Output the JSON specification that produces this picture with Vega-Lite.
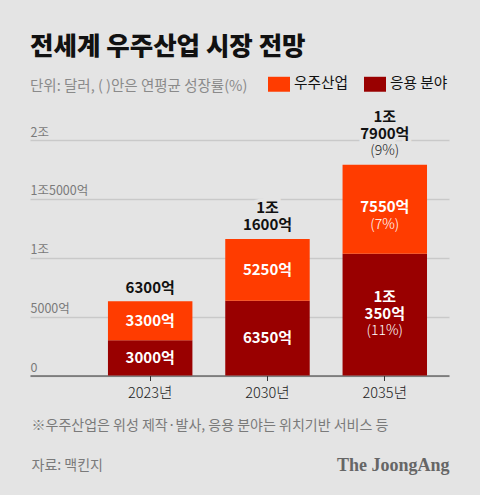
{
  "$schema": "https://vega.github.io/schema/vega-lite/v6.json",
  "width": 419,
  "height": 235.5,
  "autosize": "none",
  "padding": {"left": 30, "top": 140, "right": 31, "bottom": 119.5},
  "background": "#e4e4e4",
  "title": {
    "text": "전세계 우주산업 시장 전망",
    "subtitle": "단위: 달러, (   )안은 연평균 성장률(%)",
    "anchor": "start",
    "frame": "group",
    "dy": 24,
    "dx": 0,
    "font": "Noto Sans CJK KR",
    "fontSize": 25.5,
    "fontWeight": 900,
    "color": "#111111",
    "subtitleFont": "Noto Sans CJK KR",
    "subtitleFontSize": 14.5,
    "subtitleFontWeight": 400,
    "subtitleColor": "#8a8a8a",
    "subtitlePadding": 19
  },
  "datasets": {
    "segments": [
      {"year": "2023년", "series": "응용 분야", "rank": 1, "value": 3000, "label": "3000억", "growth": null},
      {"year": "2023년", "series": "우주산업", "rank": 2, "value": 3300, "label": "3300억", "growth": null},
      {"year": "2030년", "series": "응용 분야", "rank": 1, "value": 6350, "label": "6350억", "growth": null},
      {"year": "2030년", "series": "우주산업", "rank": 2, "value": 5250, "label": "5250억", "growth": null},
      {"year": "2035년", "series": "응용 분야", "rank": 1, "value": 10350, "label": "1조\n350억", "growth": "(11%)"},
      {"year": "2035년", "series": "우주산업", "rank": 2, "value": 7550, "label": "7550억", "growth": "(7%)"}
    ],
    "totals": [
      {"year": "2023년", "total": 6300, "label": "6300억", "growth": null},
      {"year": "2030년", "total": 11600, "label": "1조\n1600억", "growth": null},
      {"year": "2035년", "total": 17900, "label": "1조\n7900억", "growth": "(9%)"}
    ]
  },
  "encoding": {
    "x": {
      "field": "year",
      "type": "nominal",
      "scale": {"paddingInner": 0.28, "paddingOuter": 0.426, "align": 0.78},
      "axis": {
        "title": "※우주산업은 위성 제작·발사, 응용 분야는 위치기반 서비스 등",
        "titleX": 1,
        "titleY": 50,
        "titleAlign": "left",
        "titleBaseline": "middle",
        "titleFont": "Noto Sans CJK KR",
        "titleFontSize": 14,
        "titleFontWeight": 400,
        "titleColor": "#7a7a7a",
        "labelAngle": 0,
        "labelFont": "Noto Sans CJK KR",
        "labelFontSize": 14.5,
        "labelFontWeight": 300,
        "labelColor": "#222222",
        "labelPadding": 6,
        "domain": true,
        "domainColor": "#333333",
        "domainWidth": 1.2,
        "tickSize": 5,
        "tickColor": "#333333",
        "grid": false
      }
    }
  },
  "layer": [
    {
      "data": {"name": "segments"},
      "mark": {"type": "bar", "stroke": null},
      "encoding": {
        "y": {
          "field": "value",
          "type": "quantitative",
          "stack": "zero",
          "scale": {"domain": [0, 20000]},
          "axis": {
            "title": "자료: 맥킨지",
            "titleAngle": 0,
            "titleX": 1,
            "titleY": 325,
            "titleAlign": "left",
            "titleBaseline": "middle",
            "titleFont": "Noto Sans CJK KR",
            "titleFontSize": 14,
            "titleFontWeight": 400,
            "titleColor": "#7a7a7a",
            "values": [0, 5000, 10000, 15000, 20000],
            "labelExpr": "datum.value == 0 ? '0' : datum.value == 5000 ? '5000억' : datum.value == 10000 ? '1조' : datum.value == 15000 ? '1조5000억' : '2조'",
            "labelAlign": "left",
            "labelBaseline": "bottom",
            "labelPadding": 0,
            "labelFont": "Noto Sans CJK KR",
            "labelFontSize": 12.5,
            "labelColor": "#7a7a7a",
            "labelOffset": -1,
            "ticks": false,
            "domain": false,
            "grid": true,
            "gridColor": "#c9c9c9",
            "gridWidth": 1.3
          }
        },
        "color": {
          "field": "series",
          "type": "nominal",
          "scale": {"domain": ["우주산업", "응용 분야"], "range": ["#ff3c00", "#990000"]},
          "legend": {
            "title": null,
            "orient": "none",
            "legendX": 238,
            "legendY": -67,
            "direction": "horizontal",
            "columns": 2,
            "columnPadding": 15,
            "symbolType": "M-1,-0.68H1V0.68H-1Z",
            "symbolSize": 484,
            "symbolStrokeWidth": 0,
            "symbolOpacity": 1,
            "labelFont": "Noto Sans CJK KR",
            "labelFontSize": 14.7,
            "labelColor": "#111111",
            "labelOffset": 4
          }
        },
        "order": {"field": "rank", "type": "ordinal"}
      }
    },
    {
      "data": {"name": "segments"},
      "mark": {"type": "text", "font": "Noto Sans CJK KR", "fontSize": 15, "fontWeight": 700, "color": "#ffffff", "lineBreak": "\n", "lineHeight": 17, "baseline": "middle"},
      "encoding": {
        "y": {"field": "value", "type": "quantitative", "stack": "zero", "bandPosition": 0.5, "axis": null},
        "detail": {"field": "series"},
        "order": {"field": "rank", "type": "ordinal"},
        "text": {"condition": {"test": "datum.growth", "value": ""}, "field": "label"}
      }
    },
    {
      "data": {"name": "segments"},
      "mark": {"type": "text", "font": "Noto Sans CJK KR", "fontSize": 15, "fontWeight": 700, "color": "#ffffff", "lineBreak": "\n", "lineHeight": 17, "baseline": "middle", "dy": -2},
      "encoding": {
        "y": {"field": "value", "type": "quantitative", "stack": "zero", "bandPosition": 0.5, "axis": null},
        "detail": {"field": "series"},
        "order": {"field": "rank", "type": "ordinal"},
        "text": {"condition": {"test": "!datum.growth || datum.rank == 1", "value": ""}, "field": "label"}
      }
    },
    {
      "data": {"name": "segments"},
      "mark": {"type": "text", "font": "Noto Sans CJK KR", "fontSize": 15, "fontWeight": 700, "color": "#ffffff", "lineBreak": "\n", "lineHeight": 17, "baseline": "middle", "dy": -17.5},
      "encoding": {
        "y": {"field": "value", "type": "quantitative", "stack": "zero", "bandPosition": 0.5, "axis": null},
        "detail": {"field": "series"},
        "order": {"field": "rank", "type": "ordinal"},
        "text": {"condition": {"test": "!datum.growth || datum.rank == 2", "value": ""}, "field": "label"}
      }
    },
    {
      "data": {"name": "segments"},
      "mark": {"type": "text", "font": "Noto Sans CJK KR", "fontSize": 14, "fontWeight": 300, "color": "#ffffff", "baseline": "middle", "dy": 16},
      "encoding": {
        "y": {"field": "value", "type": "quantitative", "stack": "zero", "bandPosition": 0.5, "axis": null},
        "detail": {"field": "series"},
        "order": {"field": "rank", "type": "ordinal"},
        "text": {"condition": {"test": "!datum.growth", "value": ""}, "field": "growth"}
      }
    },
    {
      "data": {"name": "totals"},
      "transform": [{"filter": "datum.year == '2030년'"}],
      "mark": {"type": "text", "font": "Noto Sans CJK KR", "fontSize": 15, "fontWeight": 700, "stroke": "#e4e4e4", "strokeWidth": 7, "lineBreak": "\n", "lineHeight": 17, "baseline": "middle", "dy": -31},
      "encoding": {
        "y": {"field": "total", "type": "quantitative", "axis": null},
        "text": {"field": "label"}
      }
    },
    {
      "data": {"name": "totals"},
      "transform": [{"filter": "datum.growth"}],
      "mark": {"type": "text", "font": "Noto Sans CJK KR", "fontSize": 15, "fontWeight": 700, "stroke": "#e4e4e4", "strokeWidth": 7, "lineBreak": "\n", "lineHeight": 17, "baseline": "middle", "dy": -47.5},
      "encoding": {
        "y": {"field": "total", "type": "quantitative", "axis": null},
        "text": {"field": "label"}
      }
    },
    {
      "data": {"name": "totals"},
      "transform": [{"filter": "datum.year == '2023년'"}],
      "mark": {"type": "text", "font": "Noto Sans CJK KR", "fontSize": 15, "fontWeight": 700, "color": "#111111", "baseline": "middle", "dy": -13.5},
      "encoding": {
        "y": {"field": "total", "type": "quantitative", "axis": null},
        "text": {"field": "label"}
      }
    },
    {
      "data": {"name": "totals"},
      "transform": [{"filter": "datum.year == '2030년'"}],
      "mark": {"type": "text", "font": "Noto Sans CJK KR", "fontSize": 15, "fontWeight": 700, "color": "#111111", "lineBreak": "\n", "lineHeight": 17, "baseline": "middle", "dy": -31},
      "encoding": {
        "y": {"field": "total", "type": "quantitative", "axis": null},
        "text": {"field": "label"}
      }
    },
    {
      "data": {"name": "totals"},
      "transform": [{"filter": "datum.growth"}],
      "mark": {"type": "text", "font": "Noto Sans CJK KR", "fontSize": 15, "fontWeight": 700, "color": "#111111", "lineBreak": "\n", "lineHeight": 17, "baseline": "middle", "dy": -47.5},
      "encoding": {
        "y": {"field": "total", "type": "quantitative", "axis": null},
        "text": {"field": "label"}
      }
    },
    {
      "data": {"name": "totals"},
      "transform": [{"filter": "datum.growth"}],
      "mark": {"type": "text", "font": "Noto Sans CJK KR", "fontSize": 14, "fontWeight": 300, "color": "#222222", "baseline": "middle", "dy": -13.5},
      "encoding": {
        "y": {"field": "total", "type": "quantitative", "axis": null},
        "text": {"field": "growth"}
      }
    },
    {
      "data": {"name": "totals"},
      "mark": {"type": "rule", "opacity": 0},
      "encoding": {
        "x": {"field": "year", "type": "nominal"},
        "y": {
          "field": "total",
          "type": "quantitative",
          "axis": {
            "orient": "right",
            "title": "The JoongAng",
            "titleAngle": 0,
            "titleX": 0,
            "titleY": 325,
            "titleAlign": "right",
            "titleBaseline": "middle",
            "titleFont": "Liberation Serif",
            "titleFontSize": 18,
            "titleFontWeight": 700,
            "titleColor": "#666666",
            "labels": false,
            "ticks": false,
            "domain": false,
            "grid": false
          }
        }
      }
    }
  ],
  "resolve": {"axis": {"y": "independent"}},
  "config": {"view": {"stroke": null}}
}
